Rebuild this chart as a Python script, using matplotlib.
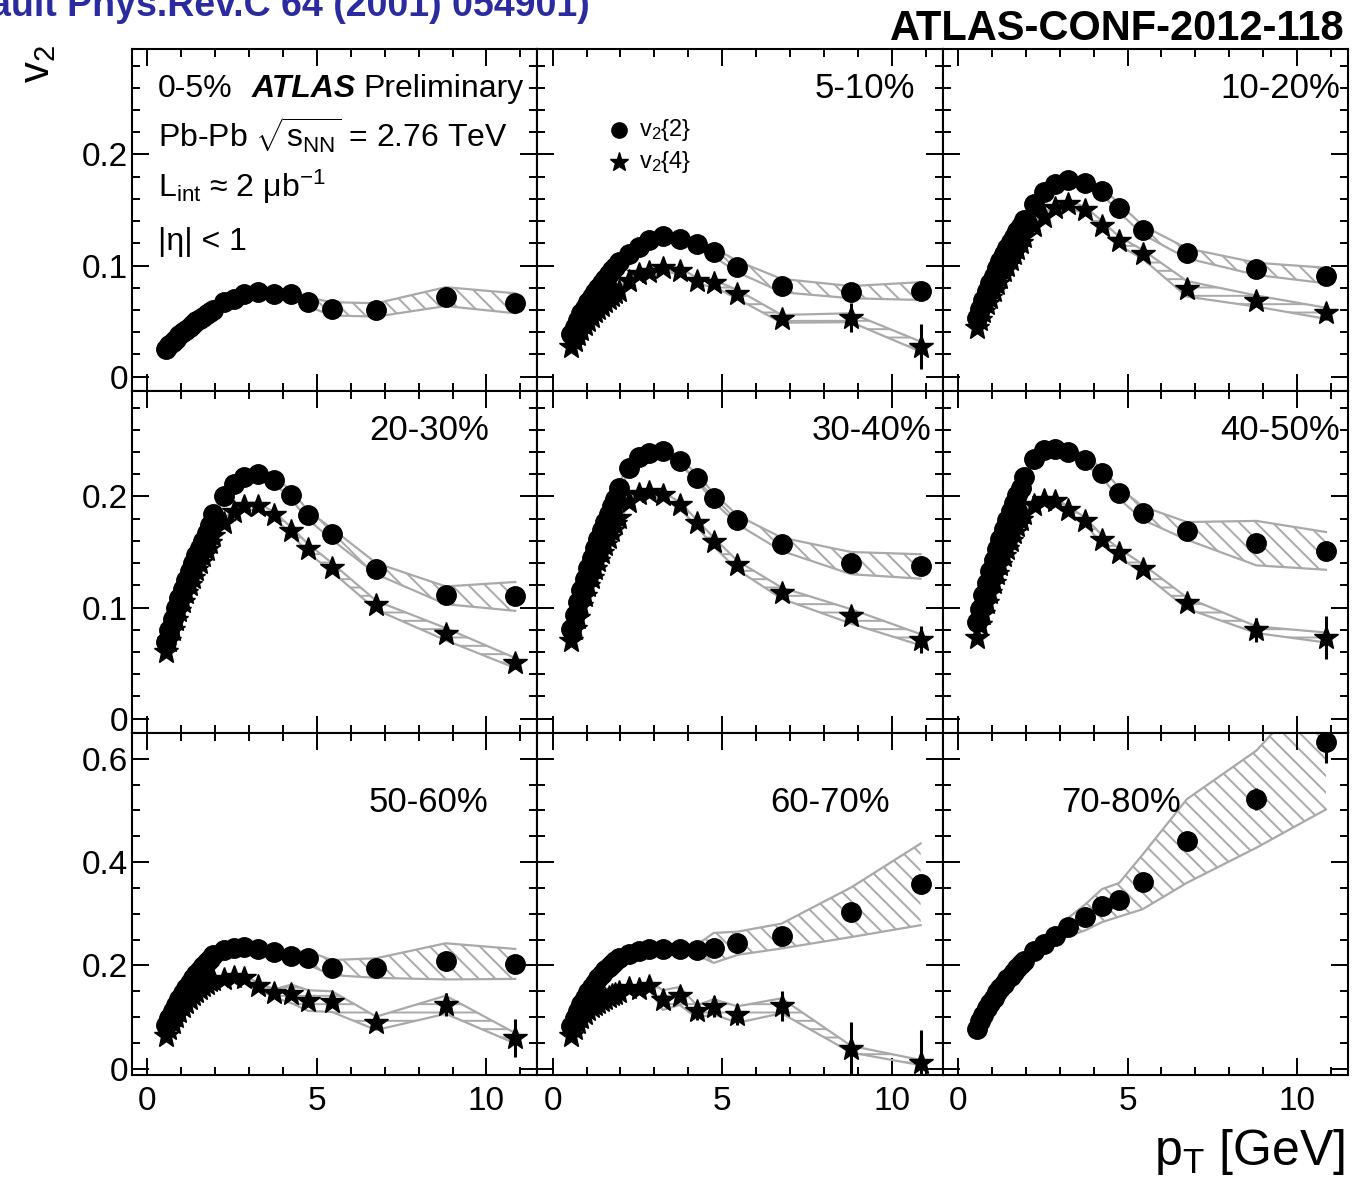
import matplotlib
matplotlib.use('Agg')
import matplotlib.pyplot as plt
from matplotlib.ticker import MultipleLocator, FuncFormatter

plt.rcParams['font.family'] = ['Liberation Sans', 'DejaVu Sans']
plt.rcParams['mathtext.fontset'] = 'custom'
plt.rcParams['mathtext.rm'] = 'Liberation Sans'
plt.rcParams['mathtext.it'] = 'Liberation Sans:italic'
plt.rcParams['mathtext.bf'] = 'Liberation Sans:bold'
plt.rcParams['hatch.linewidth'] = 1.4

# pT bin centres [GeV]
pt = [0.55, 0.65, 0.75, 0.85, 0.95, 1.05, 1.15, 1.25, 1.35, 1.45, 1.55, 1.65, 1.75, 1.85, 1.95,
      2.25, 2.55, 2.85, 3.25, 3.75, 4.25, 4.75, 5.45, 6.75, 8.8, 10.85]
n_low = 15  # stat errors below 2 GeV are invisible, stat lists cover pt[15:]

centralities = ['0-5%', '5-10%', '10-20%', '20-30%', '30-40%', '40-50%', '50-60%', '60-70%', '70-80%']

# ---- 0-5% ----
v22_0_5 = [0.025, 0.028, 0.031, 0.034, 0.037, 0.040, 0.042, 0.045, 0.047, 0.050, 0.052, 0.054, 0.056, 0.058, 0.060,
           0.067, 0.070, 0.074, 0.076, 0.074, 0.074, 0.067, 0.061, 0.060, 0.072, 0.066]
sys22_0_5 = [0.002, 0.002, 0.002, 0.002, 0.002, 0.002, 0.002, 0.002, 0.002, 0.002, 0.002, 0.002, 0.002, 0.002, 0.002,
             0.002, 0.002, 0.003, 0.003, 0.003, 0.003, 0.004, 0.006, 0.006, 0.0085, 0.009]
stat22_0_5 = [0, 0, 0, 0, 0, 0, 0, 0, 0, 0.002, 0.003]

# ---- 5-10% ----
v22_5_10 = [0.038, 0.045, 0.051, 0.057, 0.062, 0.067, 0.072, 0.076, 0.080, 0.084, 0.088, 0.092, 0.096, 0.099, 0.103,
            0.110, 0.117, 0.123, 0.127, 0.124, 0.119, 0.112, 0.099, 0.082, 0.076, 0.077]
sys22_5_10 = [0.003, 0.003, 0.003, 0.003, 0.003, 0.003, 0.003, 0.003, 0.003, 0.003, 0.003, 0.003, 0.003, 0.003, 0.003,
              0.003, 0.003, 0.003, 0.003, 0.003, 0.004, 0.004, 0.005, 0.006, 0.0055, 0.008]
stat22_5_10 = [0, 0, 0, 0, 0, 0, 0, 0, 0, 0.003, 0.004]
v24_5_10 = [0.027, 0.032, 0.037, 0.042, 0.046, 0.050, 0.054, 0.058, 0.061, 0.064, 0.067, 0.070, 0.073, 0.075, 0.077,
            0.086, 0.092, 0.094, 0.098, 0.095, 0.086, 0.084, 0.074, 0.052, 0.053, 0.027]
sys24_5_10 = [0.003, 0.003, 0.003, 0.003, 0.003, 0.003, 0.003, 0.003, 0.003, 0.003, 0.003, 0.003, 0.003, 0.003, 0.003,
              0.003, 0.003, 0.003, 0.003, 0.003, 0.003, 0.003, 0.004, 0.0035, 0.004, 0.0045]
stat24_5_10 = [0, 0, 0, 0, 0, 0, 0, 0.002, 0.003, 0.013, 0.020]

# ---- 10-20% ----
v22_10_20 = [0.053, 0.061, 0.069, 0.077, 0.084, 0.091, 0.098, 0.104, 0.110, 0.116, 0.121, 0.126, 0.131, 0.136, 0.141,
             0.155, 0.166, 0.173, 0.177, 0.174, 0.167, 0.152, 0.132, 0.111, 0.097, 0.091]
sys22_10_20 = [0.003, 0.003, 0.003, 0.003, 0.003, 0.003, 0.003, 0.003, 0.003, 0.003, 0.003, 0.003, 0.003, 0.003, 0.003,
               0.003, 0.003, 0.003, 0.003, 0.003, 0.003, 0.004, 0.004, 0.0045, 0.0055, 0.007]
stat22_10_20 = [0, 0, 0, 0, 0, 0, 0, 0, 0, 0.002, 0.003]
v24_10_20 = [0.044, 0.051, 0.058, 0.065, 0.071, 0.077, 0.083, 0.089, 0.095, 0.100, 0.105, 0.110, 0.115, 0.120, 0.126,
             0.136, 0.144, 0.152, 0.155, 0.150, 0.136, 0.122, 0.110, 0.079, 0.068, 0.057]
sys24_10_20 = [0.003, 0.003, 0.003, 0.003, 0.003, 0.003, 0.003, 0.003, 0.003, 0.003, 0.003, 0.003, 0.003, 0.003, 0.003,
               0.003, 0.003, 0.003, 0.003, 0.003, 0.004, 0.004, 0.004, 0.007, 0.005, 0.005]
stat24_10_20 = [0, 0, 0, 0, 0, 0, 0, 0, 0.003, 0.004, 0.006]

# ---- 20-30% ----
v22_20_30 = [0.069, 0.080, 0.090, 0.100, 0.109, 0.117, 0.125, 0.133, 0.140, 0.147, 0.154, 0.160, 0.167, 0.174, 0.184,
             0.200, 0.211, 0.218, 0.220, 0.215, 0.201, 0.183, 0.166, 0.135, 0.111, 0.110]
sys22_20_30 = [0.003, 0.003, 0.003, 0.003, 0.003, 0.003, 0.003, 0.003, 0.003, 0.003, 0.003, 0.003, 0.003, 0.003, 0.003,
               0.003, 0.003, 0.003, 0.003, 0.003, 0.004, 0.004, 0.005, 0.005, 0.008, 0.013]
stat22_20_30 = [0, 0, 0, 0, 0, 0, 0, 0, 0, 0.002, 0.003]
v24_20_30 = [0.060, 0.070, 0.080, 0.089, 0.097, 0.105, 0.113, 0.120, 0.127, 0.134, 0.140, 0.146, 0.152, 0.158, 0.164,
             0.176, 0.186, 0.191, 0.191, 0.183, 0.169, 0.153, 0.136, 0.102, 0.076, 0.050]
sys24_20_30 = [0.003, 0.003, 0.003, 0.003, 0.003, 0.003, 0.003, 0.003, 0.003, 0.003, 0.003, 0.003, 0.003, 0.003, 0.003,
               0.003, 0.003, 0.003, 0.003, 0.003, 0.003, 0.004, 0.004, 0.004, 0.0055, 0.0045]
stat24_20_30 = [0, 0, 0, 0, 0, 0, 0, 0, 0.002, 0.003, 0.005]

# ---- 30-40% ----
v22_30_40 = [0.081, 0.093, 0.105, 0.116, 0.126, 0.136, 0.145, 0.154, 0.162, 0.170, 0.177, 0.184, 0.191, 0.198, 0.208,
             0.226, 0.236, 0.239, 0.241, 0.232, 0.217, 0.199, 0.179, 0.157, 0.140, 0.137]
sys22_30_40 = [0.003, 0.003, 0.003, 0.003, 0.003, 0.003, 0.003, 0.003, 0.003, 0.003, 0.003, 0.003, 0.003, 0.003, 0.003,
               0.003, 0.003, 0.003, 0.003, 0.003, 0.003, 0.004, 0.004, 0.006, 0.010, 0.011]
stat22_30_40 = [0, 0, 0, 0, 0, 0, 0, 0, 0, 0.003, 0.004]
v24_30_40 = [0.070, 0.081, 0.091, 0.101, 0.110, 0.119, 0.127, 0.135, 0.142, 0.149, 0.156, 0.163, 0.169, 0.175, 0.181,
             0.195, 0.202, 0.204, 0.201, 0.192, 0.176, 0.159, 0.138, 0.113, 0.092, 0.071]
sys24_30_40 = [0.003, 0.003, 0.003, 0.003, 0.003, 0.003, 0.003, 0.003, 0.003, 0.003, 0.003, 0.003, 0.003, 0.003, 0.003,
               0.003, 0.003, 0.003, 0.003, 0.003, 0.003, 0.004, 0.004, 0.005, 0.0065, 0.005]
stat24_30_40 = [0, 0, 0, 0, 0, 0, 0, 0, 0.003, 0.005, 0.012]

# ---- 40-50% ----
v22_40_50 = [0.087, 0.099, 0.111, 0.122, 0.133, 0.143, 0.153, 0.162, 0.171, 0.179, 0.187, 0.194, 0.201, 0.208, 0.218,
             0.234, 0.242, 0.243, 0.240, 0.233, 0.221, 0.203, 0.185, 0.169, 0.158, 0.151]
sys22_40_50 = [0.003, 0.003, 0.003, 0.003, 0.003, 0.003, 0.003, 0.003, 0.003, 0.003, 0.003, 0.003, 0.003, 0.003, 0.003,
               0.003, 0.003, 0.003, 0.004, 0.004, 0.004, 0.005, 0.006, 0.008, 0.020, 0.017]
stat22_40_50 = [0, 0, 0, 0, 0, 0, 0, 0, 0.003, 0.004, 0.008]
v24_40_50 = [0.073, 0.084, 0.094, 0.104, 0.113, 0.122, 0.130, 0.138, 0.146, 0.153, 0.160, 0.167, 0.173, 0.179, 0.184,
             0.192, 0.197, 0.196, 0.188, 0.178, 0.161, 0.149, 0.135, 0.104, 0.080, 0.073]
sys24_40_50 = [0.003, 0.003, 0.003, 0.003, 0.003, 0.003, 0.003, 0.003, 0.003, 0.003, 0.003, 0.003, 0.003, 0.003, 0.003,
               0.003, 0.003, 0.003, 0.003, 0.003, 0.004, 0.004, 0.004, 0.005, 0.003, 0.0045]
stat24_40_50 = [0, 0, 0, 0, 0, 0, 0, 0, 0.004, 0.011, 0.0195]

# ---- 50-60% ----
v22_50_60 = [0.085, 0.099, 0.112, 0.124, 0.136, 0.147, 0.157, 0.166, 0.175, 0.183, 0.191, 0.199, 0.206, 0.213, 0.220,
             0.230, 0.234, 0.235, 0.232, 0.226, 0.219, 0.214, 0.196, 0.195, 0.208, 0.203]
sys22_50_60 = [0.004, 0.004, 0.004, 0.004, 0.004, 0.004, 0.004, 0.004, 0.004, 0.004, 0.004, 0.004, 0.004, 0.004, 0.004,
               0.004, 0.004, 0.004, 0.005, 0.006, 0.008, 0.013, 0.0145, 0.019, 0.035, 0.029]
stat22_50_60 = [0, 0, 0, 0, 0, 0, 0, 0.004, 0.004, 0.006, 0.008]
v24_50_60 = [0.064, 0.077, 0.089, 0.100, 0.110, 0.119, 0.127, 0.135, 0.142, 0.149, 0.155, 0.160, 0.165, 0.169, 0.172,
             0.174, 0.177, 0.176, 0.161, 0.146, 0.145, 0.132, 0.130, 0.088, 0.124, 0.059]
sys24_50_60 = [0.004, 0.004, 0.004, 0.004, 0.004, 0.004, 0.004, 0.004, 0.004, 0.004, 0.004, 0.004, 0.004, 0.004, 0.004,
               0.004, 0.004, 0.005, 0.006, 0.008, 0.018, 0.020, 0.020, 0.013, 0.0175, 0.010]
stat24_50_60 = [0, 0, 0, 0.003, 0.004, 0.005, 0.006, 0.007, 0.010, 0.0226, 0.037]

# ---- 60-70% ----
v22_60_70 = [0.083, 0.098, 0.112, 0.125, 0.137, 0.148, 0.158, 0.167, 0.176, 0.184, 0.191, 0.197, 0.203, 0.208, 0.214,
             0.222, 0.228, 0.232, 0.232, 0.232, 0.230, 0.234, 0.243, 0.257, 0.303, 0.357]
sys22_60_70 = [0.005, 0.005, 0.005, 0.005, 0.005, 0.005, 0.005, 0.005, 0.005, 0.005, 0.005, 0.005, 0.005, 0.005, 0.005,
               0.005, 0.006, 0.007, 0.010, 0.010, 0.010, 0.029, 0.0225, 0.024, 0.048, 0.079]
stat22_60_70 = [0, 0, 0, 0, 0.002, 0.003, 0.004, 0.005, 0.006, 0.008, 0.019]
v24_60_70 = [0.064, 0.077, 0.088, 0.098, 0.106, 0.113, 0.119, 0.124, 0.128, 0.132, 0.136, 0.139, 0.142, 0.145, 0.148,
             0.157, 0.154, 0.161, 0.133, 0.141, 0.111, 0.120, 0.105, 0.122, 0.038, 0.012]
sys24_60_70 = [0.005, 0.005, 0.005, 0.005, 0.005, 0.005, 0.005, 0.005, 0.005, 0.005, 0.005, 0.005, 0.005, 0.005, 0.005,
               0.005, 0.006, 0.008, 0.019, 0.0175, 0.012, 0.0146, 0.016, 0.0145, 0.0065, 0.005]
stat24_60_70 = [0.003, 0.004, 0.005, 0.006, 0.008, 0.016, 0.020, 0.020, 0.029, 0.053, 0.064]

# ---- 70-80% ----
v22_70_80 = [0.077, 0.092, 0.105, 0.117, 0.128, 0.138, 0.148, 0.157, 0.165, 0.173, 0.180, 0.188, 0.195, 0.202, 0.209,
             0.228, 0.241, 0.257, 0.274, 0.293, 0.316, 0.327, 0.362, 0.441, 0.522, 0.632]
sys22_70_80 = [0.003, 0.003, 0.003, 0.003, 0.003, 0.003, 0.003, 0.003, 0.003, 0.003, 0.003, 0.003, 0.003, 0.003, 0.003,
               0.003, 0.003, 0.005, 0.018, 0.025, 0.032, 0.0325, 0.053, 0.081, 0.094, 0.13]
stat22_70_80 = [0, 0, 0, 0.003, 0.004, 0.005, 0.006, 0.008, 0.010, 0.021, 0.040]

# panel -> (v2{2}, sys, stat, v2{4}, sys, stat)
series = [
    (v22_0_5, sys22_0_5, stat22_0_5, None, None, None),
    (v22_5_10, sys22_5_10, stat22_5_10, v24_5_10, sys24_5_10, stat24_5_10),
    (v22_10_20, sys22_10_20, stat22_10_20, v24_10_20, sys24_10_20, stat24_10_20),
    (v22_20_30, sys22_20_30, stat22_20_30, v24_20_30, sys24_20_30, stat24_20_30),
    (v22_30_40, sys22_30_40, stat22_30_40, v24_30_40, sys24_30_40, stat24_30_40),
    (v22_40_50, sys22_40_50, stat22_40_50, v24_40_50, sys24_40_50, stat24_40_50),
    (v22_50_60, sys22_50_60, stat22_50_60, v24_50_60, sys24_50_60, stat24_50_60),
    (v22_60_70, sys22_60_70, stat22_60_70, v24_60_70, sys24_60_70, stat24_60_70),
    (v22_70_80, sys22_70_80, stat22_70_80, None, None, None),
]

band_grey = '#a9a9a9'


def draw_series(ax, vals, sys, stat, marker, ms, hatch):
    lo = [v - s for v, s in zip(vals, sys)]
    hi = [v + s for v, s in zip(vals, sys)]
    ax.fill_between(pt, lo, hi, facecolor='none', edgecolor=band_grey, hatch=hatch, linewidth=0, zorder=1)
    ax.plot(pt, hi, color=band_grey, lw=1.6, zorder=2)
    ax.plot(pt, lo, color=band_grey, lw=1.6, zorder=2)
    err = [0] * n_low + stat
    ax.errorbar(pt, vals, yerr=err, fmt=marker, ms=ms, color='black', mec='black',
                elinewidth=2.2, capsize=0, zorder=3)


fig, axes = plt.subplots(3, 3, figsize=(13.62, 11.88), dpi=100)
fig.subplots_adjust(left=132 / 1362, right=1348 / 1362, top=1 - 49 / 1188, bottom=1 - 1075 / 1188,
                    wspace=0, hspace=0)

fmt = FuncFormatter(lambda v, _: '0' if abs(v) < 1e-9 else f'{v:g}')

for i, ax in enumerate(axes.flat):
    row, col = divmod(i, 3)
    v22, s22, e22, v24, s24, e24 = series[i]
    draw_series(ax, v22, s22, e22, 'o', 14, '\\\\')
    if v24 is not None:
        draw_series(ax, v24, s24, e24, '*', 18, '--')

    ax.set_xlim(-0.45, 11.5)
    if row < 2:
        ax.set_ylim(-0.013, 0.295)
        ax.yaxis.set_major_locator(MultipleLocator(0.1))
        ax.yaxis.set_minor_locator(MultipleLocator(0.02))
    else:
        ax.set_ylim(-0.012, 0.65)
        ax.yaxis.set_major_locator(MultipleLocator(0.2))
        ax.yaxis.set_minor_locator(MultipleLocator(0.05))
    ax.xaxis.set_major_locator(MultipleLocator(5))
    ax.xaxis.set_minor_locator(MultipleLocator(1))
    ax.yaxis.set_major_formatter(fmt)
    ax.tick_params(which='both', direction='in', top=True, right=True, width=1.4,
                   labelsize=24, labelleft=(col == 0), labelbottom=(row == 2))
    ax.tick_params(which='major', length=12)
    ax.tick_params(which='minor', length=6)
    ax.tick_params(axis='y', pad=3)
    ax.tick_params(axis='x', pad=8)
    for sp in ax.spines.values():
        sp.set_linewidth(1.5)

# centrality labels
label_pos = {1: (0.931, 0.857, 'right'), 2: (0.98, 0.857, 'right'),
             3: (0.734, 0.857, 'center'), 4: (0.973, 0.857, 'right'), 5: (0.98, 0.857, 'right'),
             6: (0.731, 0.769, 'center'), 7: (0.723, 0.769, 'center'), 8: (0.44, 0.769, 'center')}
for i, (x, y, ha) in label_pos.items():
    axes.flat[i].text(x, y, centralities[i], transform=axes.flat[i].transAxes,
                      ha=ha, va='baseline', fontsize=25)

# first panel text block
ax0 = axes[0, 0]
tsize = 23
ax0.text(0.064, 0.860, centralities[0], transform=ax0.transAxes, fontsize=tsize, va='baseline')
ax0.text(0.296, 0.860, 'ATLAS', transform=ax0.transAxes, fontsize=tsize, va='baseline',
         fontweight='bold', fontstyle='italic')
ax0.text(0.571, 0.860, 'Preliminary', transform=ax0.transAxes, fontsize=tsize, va='baseline')
ax0.text(0.064, 0.711, r'Pb-Pb $\sqrt{\mathrm{s}_{\rm NN}}$ = 2.76 TeV', transform=ax0.transAxes,
         fontsize=tsize, va='baseline')
ax0.text(0.064, 0.567, r'L$_{\rm int}$ ≈ 2 μb$^{-1}$', transform=ax0.transAxes,
         fontsize=tsize, va='baseline')
ax0.text(0.064, 0.412, '|η| < 1', transform=ax0.transAxes, fontsize=tsize, va='baseline')

# legend in the 5-10% panel
ax1 = axes[0, 1]
ax1.plot([0.2025], [0.763], 'o', ms=11, color='black', transform=ax1.transAxes, clip_on=False)
ax1.plot([0.2025], [0.670], '*', ms=14, color='black', transform=ax1.transAxes, clip_on=False)
ax1.text(0.252, 0.763, 'v$_2${2}', transform=ax1.transAxes, fontsize=17, va='center')
ax1.text(0.252, 0.670, 'v$_2${4}', transform=ax1.transAxes, fontsize=17, va='center')

# axis titles and header texts
fig.text(0.028, 0.962, 'v$_2$', rotation=90, ha='center', va='top', fontsize=30)
fig.text(0.9875, 1 - 1165 / 1188, 'p$_{\\rm T}$ [GeV]', ha='right', va='baseline', fontsize=36)
fig.text(0.9875, 1 - 40 / 1188, 'ATLAS-CONF-2012-118', ha='right', va='baseline',
         fontsize=30, fontweight='bold')
# reference line, cut by the top edge of the page as in the original
fig.text(590 / 1362, 1 - 16 / 1188, '(Borghini, Dinh, Ollitrault Phys.Rev.C 64 (2001) 054901)',
         ha='right', va='baseline', fontsize=27, fontweight='bold', color='#2b2ba0')

fig.savefig('out.png', dpi=100)
